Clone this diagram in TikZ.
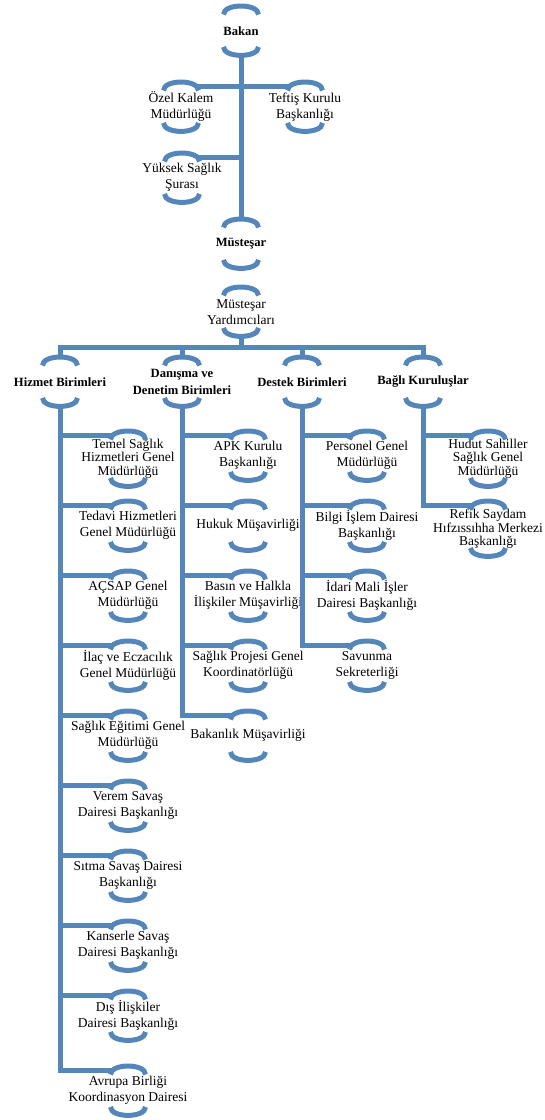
\documentclass[tikz,border=0pt]{standalone}
\usepackage{fontspec}
\setmainfont{Liberation Serif}
\definecolor{orgblue}{RGB}{84,134,186}
\begin{document}
\begin{tikzpicture}[x=1pt,y=-1pt,
  unit/.style={anchor=north, minimum height=49pt, minimum width=36pt,
    inner sep=0pt, align=center, text=black,
    font=\fontsize{13.5}{16}\selectfont},
  head/.style={unit, font=\fontsize{12.6}{17}\selectfont\bfseries},
  tall/.style={minimum height=55pt, font=\fontsize{13.5}{13.5}\selectfont},
  link/.style={draw=orgblue, line width=5pt},
  arcline/.style={draw=orgblue, line width=5pt, line cap=butt}]
\useasboundingbox (0,0) rectangle (544,1120);

% top of the hierarchy
\node[head] (bakan)    at (241,6)   {Bakan};
\node[unit] (ozel)     at (181,82)  {Özel Kalem\\Müdürlüğü};
\node[unit] (teftis)   at (305,82)  {Teftiş Kurulu\\Başkanlığı};
\node[unit] (yuksek)   at (182,153) {Yüksek Sağlık\\Şurası};
\node[head] (mustesar) at (241,219) {Müsteşar};
\node[unit] (yard)     at (241,287) {Müsteşar\\Yardımcıları};

% unit groups
\node[head] (hizmet)  at (60,357)  {Hizmet Birimleri};
\node[head] (danisma) at (182,357) {Danışma ve\\Denetim Birimleri};
\node[head] (destek)  at (302,357) {Destek Birimleri};
\node[head] (bagli)   at (423,357) {Bağlı Kuruluşlar};

% service units
\node[unit,tall] (temel) at (128,431) {Temel Sağlık\\Hizmetleri Genel\\Müdürlüğü};
\node[unit] (tedavi) at (128,501)  {Tedavi Hizmetleri\\Genel Müdürlüğü};
\node[unit] (acsap)  at (128,571)  {AÇSAP Genel\\Müdürlüğü};
\node[unit] (ilac)   at (128,641)  {İlaç ve Eczacılık\\Genel Müdürlüğü};
\node[unit] (egitim) at (128,711)  {Sağlık Eğitimi Genel\\Müdürlüğü};
\node[unit] (verem)  at (128,781)  {Verem Savaş\\Dairesi Başkanlığı};
\node[unit] (sitma)  at (128,851)  {Sıtma Savaş Dairesi\\Başkanlığı};
\node[unit] (kanser) at (128,921)  {Kanserle Savaş\\Dairesi Başkanlığı};
\node[unit] (dis)    at (128,991)  {Dış İlişkiler\\Dairesi Başkanlığı};
\node[unit] (avrupa) at (128,1066) {Avrupa Birliği\\Koordinasyon Dairesi};

% advisory and audit units
\node[unit] (apk)     at (248,431) {APK Kurulu\\Başkanlığı};
\node[unit] (hukuk)   at (248,501) {Hukuk Müşavirliği};
\node[unit] (basin)   at (248,571) {Basın ve Halkla\\İlişkiler Müşavirliği};
\node[unit] (proje)   at (248,641) {Sağlık Projesi Genel\\Koordinatörlüğü};
\node[unit] (musavir) at (248,711) {Bakanlık Müşavirliği};

% support units
\node[unit] (personel) at (367,431) {Personel Genel\\Müdürlüğü};
\node[unit] (bilgi)    at (367,501) {Bilgi İşlem Dairesi\\Başkanlığı};
\node[unit] (idari)    at (367,571) {İdari Mali İşler\\Dairesi Başkanlığı};
\node[unit] (savunma)  at (367,641) {Savunma\\Sekreterliği};

% affiliated institutions
\node[unit,tall] (hudut) at (488,431) {Hudut Sahiller\\Sağlık Genel\\Müdürlüğü};
\node[unit,tall] (refik) at (488,501) {Refik Saydam\\Hıfzıssıhha Merkezi\\Başkanlığı};

% bracket arcs above and below every unit
\foreach \n in {bakan,ozel,teftis,yuksek,mustesar,yard,hizmet,danisma,destek,bagli,
  temel,tedavi,acsap,ilac,egitim,verem,sitma,kanser,dis,avrupa,
  apk,hukuk,basin,proje,musavir,personel,bilgi,idari,savunma,hudut,refik} {
  \draw[arcline] ([xshift=-17.5pt,yshift=-8.5pt]\n.north) .. controls +(0pt,11.3pt) and +(0pt,11.3pt) .. ([xshift=17.5pt,yshift=-8.5pt]\n.north);
  \draw[arcline] ([xshift=-17.5pt,yshift=8.5pt]\n.south) .. controls +(0pt,-11.3pt) and +(0pt,-11.3pt) .. ([xshift=17.5pt,yshift=8.5pt]\n.south);
}

% side entry points of the connectors
\foreach \n in {teftis,temel,tedavi,acsap,ilac,egitim,verem,sitma,kanser,dis,avrupa,
  apk,hukuk,basin,proje,musavir,personel,bilgi,idari,savunma,hudut,refik}
  \coordinate (\n-in) at ([xshift=-16.5pt,yshift=-4pt]\n.north);
\foreach \n in {ozel,yuksek}
  \coordinate (\n-in) at ([xshift=16.5pt,yshift=-4pt]\n.north);
\coordinate (bus) at (241,347);

% connectors
\draw[link] (bakan.south) -- (mustesar.north);
\draw[link] (ozel-in) -- (teftis-in);
\draw[link] (yuksek-in) -- (yuksek-in -| bakan.south);
\draw[link] (yard.south) -- (bus);
\draw[link] (hizmet.north) -- (hizmet.north |- bus) -- (bagli.north |- bus) -- (bagli.north);
\draw[link] (danisma.north) -- (danisma.north |- bus);
\draw[link] (destek.north) -- (destek.north |- bus);

\draw[link] (hizmet.south) |- (avrupa-in);
\foreach \n in {temel,tedavi,acsap,ilac,egitim,verem,sitma,kanser,dis}
  \draw[link] (hizmet.south |- \n-in) -- (\n-in);

\draw[link] (danisma.south) |- (musavir-in);
\foreach \n in {apk,hukuk,basin,proje}
  \draw[link] (danisma.south |- \n-in) -- (\n-in);

\draw[link] (destek.south) |- (savunma-in);
\foreach \n in {personel,bilgi,idari}
  \draw[link] (destek.south |- \n-in) -- (\n-in);

\draw[link] (bagli.south) |- (refik-in);
\draw[link] (bagli.south |- hudut-in) -- (hudut-in);
\end{tikzpicture}
\end{document}
